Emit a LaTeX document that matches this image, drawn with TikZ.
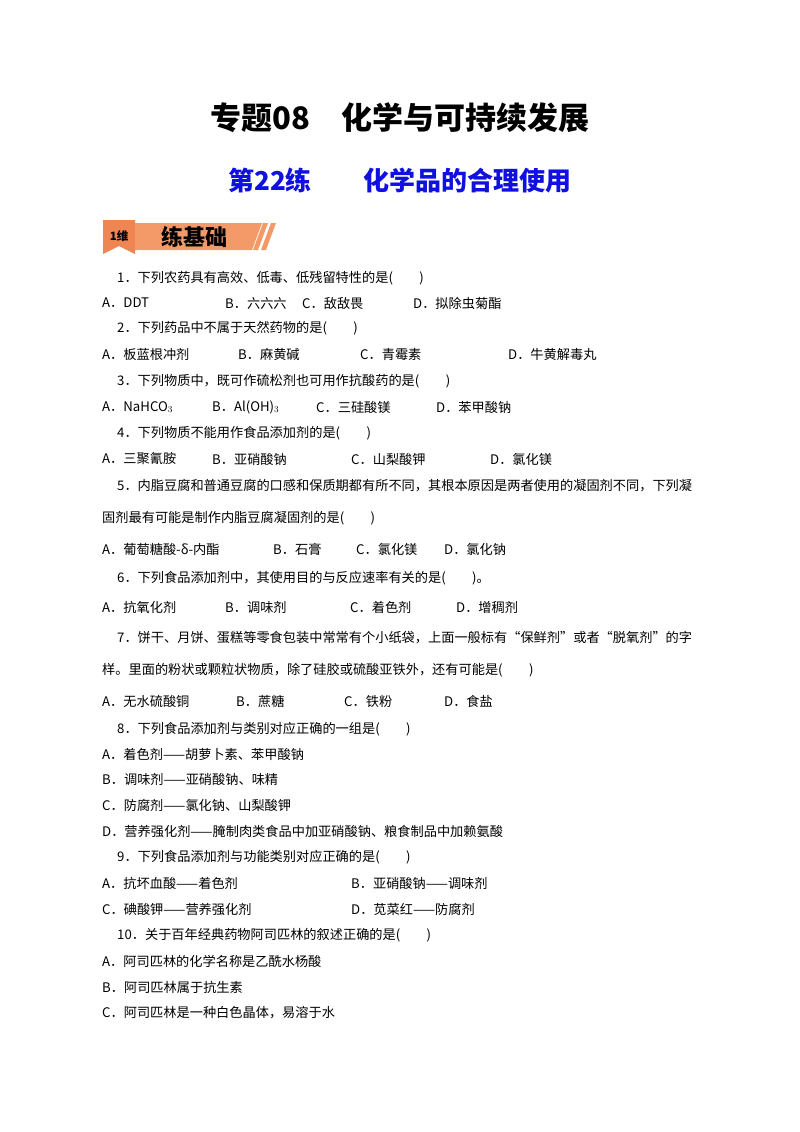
\documentclass[tikz,border=0pt]{standalone}
\usepackage{fontspec}
\setmainfont{Noto Sans CJK SC}
\definecolor{tabc}{HTML}{EE8552}
\definecolor{barc}{HTML}{F39A68}
\definecolor{ttlblue}{HTML}{1010E0}
\begin{document}
\begin{tikzpicture}[x=1pt,y=-1pt,
  t/.style={anchor=west,inner sep=0pt,font=\fontsize{13.2}{16}\selectfont}]
\useasboundingbox (0,0) rectangle (800,1132);
\node[inner sep=0pt,font=\fontsize{31}{36}\selectfont\bfseries] (title) at (400,118) {专题08\quad 化学与可持续发展};
\node[inner sep=0pt,font=\fontsize{26}{30}\selectfont\bfseries,text=ttlblue] (sub) at (400,181) {第22练\quad\quad 化学品的合理使用};
% banner
\fill[tabc] (103,220) -- (135,220) -- (135,254) -- (119,246) -- (103,254) -- cycle;
\fill[barc] (135,223) -- (262,223) -- (252,250) -- (135,250) -- cycle;
\fill[barc] (263,223) -- (268,223) -- (258,250) -- (253,250) -- cycle;
\fill[barc] (271,223) -- (276,223) -- (266,250) -- (261,250) -- cycle;
\node[inner sep=0pt,font=\fontsize{11.5}{12}\selectfont\bfseries] (tabt) at (119,236) {1维};
\node[inner sep=0pt,font=\fontsize{22}{24}\selectfont\bfseries] (bart) at (194,237) {练基础};
% Q1
\node[t] (q1) at (117,278) {1．下列农药具有高效、低毒、低残留特性的是(\quad\quad)};
\node[t] (q1a) at (102,303) {A．DDT};
\node[t] (q1b) at (225,303) {B．六六六};
\node[t] (q1c) at (302,303) {C．敌敌畏};
\node[t] (q1d) at (413,303) {D．拟除虫菊酯};
% Q2
\node[t] (q2) at (117,328) {2．下列药品中不属于天然药物的是(\quad\quad)};
\node[t] (q2a) at (102,354) {A．板蓝根冲剂};
\node[t] (q2b) at (238,354) {B．麻黄碱};
\node[t] (q2c) at (360,354) {C．青霉素};
\node[t] (q2d) at (508,354) {D．牛黄解毒丸};
% Q3
\node[t] (q3) at (117,381) {3．下列物质中，既可作硫松剂也可用作抗酸药的是(\quad\quad)};
\node[t] (q3a) at (102,407) {A．NaHCO$_3$};
\node[t] (q3b) at (212,407) {B．Al(OH)$_3$};
\node[t] (q3c) at (316,407) {C．三硅酸镁};
\node[t] (q3d) at (436,407) {D．苯甲酸钠};
% Q4
\node[t] (q4) at (117,433) {4．下列物质不能用作食品添加剂的是(\quad\quad)};
\node[t] (q4a) at (102,459) {A．三聚氰胺};
\node[t] (q4b) at (212,459) {B．亚硝酸钠};
\node[t] (q4c) at (351,459) {C．山梨酸钾};
\node[t] (q4d) at (490,459) {D．氯化镁};
% Q5
\node[t] (q5) at (117,486) {5．内脂豆腐和普通豆腐的口感和保质期都有所不同，其根本原因是两者使用的凝固剂不同，下列凝};
\node[t] (q5x) at (102,518) {固剂最有可能是制作内脂豆腐凝固剂的是(\quad\quad)};
\node[t] (q5a) at (102,549) {A．葡萄糖酸-δ-内酯};
\node[t] (q5b) at (273,549) {B．石膏};
\node[t] (q5c) at (356,549) {C．氯化镁};
\node[t] (q5d) at (444,549) {D．氯化钠};
% Q6
\node[t] (q6) at (117,578) {6．下列食品添加剂中，其使用目的与反应速率有关的是(\quad\quad)。};
\node[t] (q6a) at (102,607) {A．抗氧化剂};
\node[t] (q6b) at (225,607) {B．调味剂};
\node[t] (q6c) at (350,607) {C．着色剂};
\node[t] (q6d) at (456,607) {D．增稠剂};
% Q7
\node[t] (q7) at (117,638) {7．饼干、月饼、蛋糕等零食包装中常常有个小纸袋，上面一般标有“保鲜剂”或者“脱氧剂”的字};
\node[t] (q7x) at (102,670) {样。里面的粉状或颗粒状物质，除了硅胶或硫酸亚铁外，还有可能是(\quad\quad)};
\node[t] (q7a) at (102,701) {A．无水硫酸铜};
\node[t] (q7b) at (236,701) {B．蔗糖};
\node[t] (q7c) at (344,701) {C．铁粉};
\node[t] (q7d) at (444,701) {D．食盐};
% Q8
\node[t] (q8) at (117,729) {8．下列食品添加剂与类别对应正确的一组是(\quad\quad)};
\node[t] (q8a) at (102,754) {A．着色剂——胡萝卜素、苯甲酸钠};
\node[t] (q8b) at (102,779) {B．调味剂——亚硝酸钠、味精};
\node[t] (q8c) at (102,805) {C．防腐剂——氯化钠、山梨酸钾};
\node[t] (q8d) at (102,831) {D．营养强化剂——腌制肉类食品中加亚硝酸钠、粮食制品中加赖氨酸};
% Q9
\node[t] (q9) at (117,857) {9．下列食品添加剂与功能类别对应正确的是(\quad\quad)};
\node[t] (q9a) at (102,883) {A．抗坏血酸——着色剂};
\node[t] (q9b) at (351,883) {B．亚硝酸钠——调味剂};
\node[t] (q9c) at (102,909) {C．碘酸钾——营养强化剂};
\node[t] (q9d) at (351,909) {D．苋菜红——防腐剂};
% Q10
\node[t] (q10) at (117,935) {10．关于百年经典药物阿司匹林的叙述正确的是(\quad\quad)};
\node[t] (q10a) at (102,961) {A．阿司匹林的化学名称是乙酰水杨酸};
\node[t] (q10b) at (102,987) {B．阿司匹林属于抗生素};
\node[t] (q10c) at (102,1013) {C．阿司匹林是一种白色晶体，易溶于水};
\end{tikzpicture}
\end{document}
